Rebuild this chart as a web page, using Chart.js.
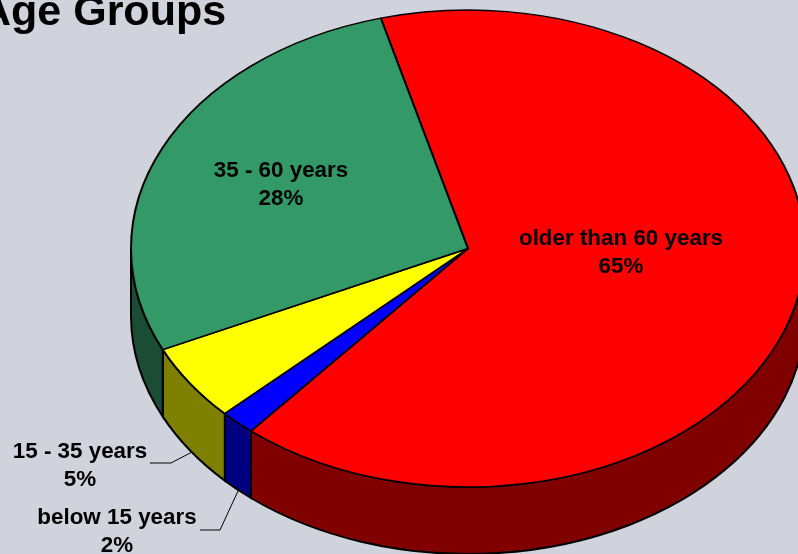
<!DOCTYPE html>
<html>
<head>
<meta charset="utf-8">
<title>Age Groups</title>
<script src="https://cdn.jsdelivr.net/npm/chart.js@4"></script>
<style>
  html, body { margin:0; padding:0; background:#d0d3db; overflow:hidden; }
  canvas { display:block; }
</style>
</head>
<body>
<canvas id="pie" width="798" height="554"></canvas>
<script>
const TITLE = "Age Groups";
const CATEGORIES = ["older than 60 years", "below 15 years", "15 - 35 years", "35 - 60 years"];
const VALUES = [65.3, 1.7, 5.2, 27.8];
const TOP_COLORS = ["#ff0000", "#0000ff", "#ffff00", "#339966"];
const SIDE_COLORS = ["#800000", "#000080", "#808000", "#1a4d33"];

// where the pie sits on the page
const CX = 468, CY = 248.5, RX = 337, RY = 238.5, DEPTH = 67;

const FONT = 'bold 22.4px "Liberation Sans", Arial, sans-serif';
const LABEL_POS = [[621, 239], [117, 518], [80, 452], [281, 171]];
const LEADERS = [null, [[200,530],[220,530],[238,491]], [[150,463],[171,463],[192,452]], null];

const pie3d = {
  id: "pie3d",
  beforeDatasetsDraw(chart) {
    const ctx = chart.ctx;
    const arcs = chart.getDatasetMeta(0).data;
    // side wall, only the front half of the rim shows
    arcs.forEach((arc, i) => {
      const a0 = Math.max(arc.startAngle, 0), a1 = Math.min(arc.endAngle, Math.PI);
      if (a1 <= a0) return;
      ctx.beginPath();
      ctx.ellipse(CX, CY, RX, RY, 0, a0, a1);
      ctx.ellipse(CX, CY + DEPTH, RX, RY, 0, a1, a0, true);
      ctx.closePath();
      ctx.fillStyle = SIDE_COLORS[i];
      ctx.fill();
      ctx.strokeStyle = "#000";
      ctx.lineWidth = 2;
      ctx.stroke();
    });
    // squash the top face into the tilted ellipse
    ctx.save();
    ctx.translate(CX, CY);
    ctx.scale(1, RY / RX);
    ctx.translate(-arcs[0].x, -arcs[0].y);
  },
  afterDatasetsDraw(chart) {
    const ctx = chart.ctx;
    ctx.restore();

    ctx.fillStyle = "#000";
    ctx.textAlign = "left";
    ctx.textBaseline = "alphabetic";
    ctx.font = 'bold 43px "Liberation Sans", Arial, sans-serif';
    ctx.fillText(TITLE, -20, 25);

    ctx.font = FONT;
    ctx.textAlign = "center";
    ctx.textBaseline = "middle";
    CATEGORIES.forEach((c, i) => {
      const [x, y] = LABEL_POS[i];
      ctx.fillText(c, x, y);
      ctx.fillText(Math.round(VALUES[i]) + "%", x, y + 28);
      if (LEADERS[i]) {
        ctx.beginPath();
        LEADERS[i].forEach((p, j) => j ? ctx.lineTo(p[0], p[1]) : ctx.moveTo(p[0], p[1]));
        ctx.strokeStyle = "#000";
        ctx.lineWidth = 1;
        ctx.stroke();
      }
    });
  }
};

new Chart(document.getElementById("pie"), {
  type: "pie",
  data: {
    labels: CATEGORIES,
    datasets: [{
      data: VALUES,
      backgroundColor: TOP_COLORS,
      borderColor: "#000",
      borderWidth: 2,
      clip: false
    }]
  },
  options: {
    responsive: false,
    animation: false,
    devicePixelRatio: 1,
    events: [],
    rotation: -15,
    radius: RX,
    plugins: { legend: { display:false }, tooltip: { enabled:false }, title: { display:false } }
  },
  plugins: [pie3d]
});
</script>
</body>
</html>
